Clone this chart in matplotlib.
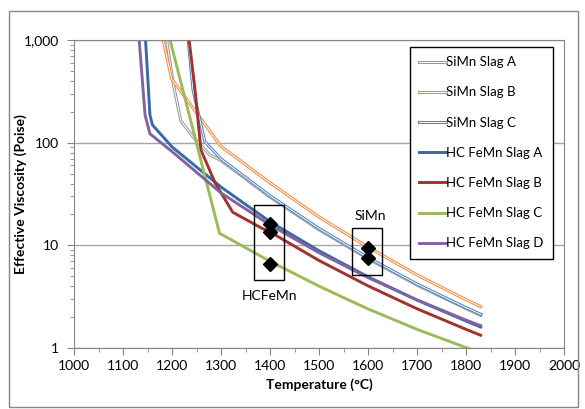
import matplotlib
matplotlib.use("Agg")
import matplotlib.pyplot as plt
import matplotlib.patheffects as pe
from matplotlib.patches import Rectangle
from matplotlib.ticker import FixedLocator, LogLocator, NullFormatter, MultipleLocator

plt.rcParams['font.family'] = ['Lato', 'DejaVu Sans']

# series (temperature in C, viscosity in Poise)
simn_a_t = [1189, 1203, 1218, 1243, 1277, 1300, 1400, 1500, 1600, 1700, 1800, 1830]
simn_a_v = [1000, 365, 163, 114, 76, 67, 29.5, 14.2, 7.4, 4.1, 2.42, 2.08]

simn_b_t = [1182, 1199, 1300, 1400, 1500, 1600, 1700, 1800, 1830]
simn_b_v = [1000, 420, 92, 40.6, 18.9, 9.6, 5.15, 2.96, 2.53]

simn_c_t = [1233, 1243, 1257, 1267, 1300, 1400, 1500, 1600, 1700, 1800, 1830]
simn_c_v = [1000, 326, 166, 102, 69.5, 30.4, 14.6, 7.6, 4.2, 2.47, 2.13]

hc_a_t = [1146, 1155, 1160, 1200, 1300, 1400, 1500, 1600, 1700, 1800, 1830]
hc_a_v = [1000, 186, 149, 91, 37, 17, 8.85, 4.94, 2.93, 1.83, 1.60]

hc_b_t = [1235, 1247, 1259, 1288, 1324, 1383, 1400, 1500, 1600, 1700, 1800, 1830]
hc_b_v = [1000, 326, 85, 40.5, 21, 14.7, 13.5, 7.12, 4.03, 2.41, 1.52, 1.33]

hc_c_t = [1196, 1297, 1400, 1500, 1600, 1700, 1800, 1830]
hc_c_v = [1000, 13.1, 7.0, 4.0, 2.4, 1.52, 1.01, 0.9]

hc_d_t = [1133, 1145, 1155, 1200, 1300, 1400, 1500, 1600, 1700, 1800, 1830]
hc_d_v = [1000, 186, 122, 82, 32.4, 15.8, 8.47, 4.85, 2.94, 1.87, 1.65]

# measured points
hcfemn_t = [1400, 1400, 1400]
hcfemn_v = [16.0, 13.6, 6.6]
simn_t = [1600, 1600]
simn_v = [9.4, 7.5]

fig = plt.figure(figsize=(5.85, 4.09), dpi=100)
ax = fig.add_axes([74/585, 1-348/409, 490/585, 308/409])

def double_line(t, v, c, label):
    ax.plot(t, v, color=c, lw=2.2, label=label,
            path_effects=[pe.Stroke(linewidth=2.2, foreground=c),
                          pe.Stroke(linewidth=0.7, foreground='white')])

double_line(simn_a_t, simn_a_v, '#9a9a9a', 'SiMn Slag A')
double_line(simn_b_t, simn_b_v, '#f08a3c', 'SiMn Slag B')
double_line(simn_c_t, simn_c_v, '#4f81bd', 'SiMn Slag C')
ax.plot(hc_a_t, hc_a_v, color='#3a69a5', lw=2.1, label='HC FeMn Slag A')
ax.plot(hc_b_t, hc_b_v, color='#a3322f', lw=2.1, label='HC FeMn Slag B')
ax.plot(hc_c_t, hc_c_v, color='#9bbb59', lw=2.1, label='HC FeMn Slag C')
ax.plot(hc_d_t, hc_d_v, color='#8064a2', lw=2.1, label='HC FeMn Slag D')

ax.plot(hcfemn_t, hcfemn_v, 'D', color='black', ms=7.5, zorder=5)
ax.plot(simn_t, simn_v, 'D', color='black', ms=7.5, zorder=5)

ax.add_patch(Rectangle((1368, 4.6), 61, 24.7 - 4.6, fill=False, ec='black', lw=1, zorder=6))
ax.add_patch(Rectangle((1567, 5.15), 61, 14.7 - 5.15, fill=False, ec='black', lw=1, zorder=6))
ax.text(1398, 3.2, 'HCFeMn', ha='center', va='center', fontsize=10)
ax.text(1605, 19.1, 'SiMn', ha='center', va='center', fontsize=10)

ax.set_yscale('log')
ax.set_xlim(1000, 2000)
ax.set_ylim(1, 1000)
ax.xaxis.set_major_locator(MultipleLocator(100))
ax.xaxis.set_minor_locator(MultipleLocator(50))
ax.yaxis.set_major_locator(FixedLocator([1, 10, 100, 1000]))
ax.yaxis.set_minor_locator(LogLocator(base=10, subs=range(2, 10)))
ax.yaxis.set_minor_formatter(NullFormatter())
ax.set_yticklabels(['1', '10', '100', '1,000'])
ax.grid(axis='y', which='major', color='#a6a6a6', lw=1)
ax.tick_params(axis='both', which='major', labelsize=10, color='#868686', length=5)
ax.tick_params(axis='y', which='major', pad=6)
ax.tick_params(axis='both', which='minor', color='#868686', length=3)
for s in ax.spines.values():
    s.set_color('#868686')

ax.set_xlabel('Temperature (°C)', fontsize=10, fontweight='bold', labelpad=5)
ax.set_ylabel('Effective Viscosity (Poise)', fontsize=10, fontweight='bold')
ax.yaxis.set_label_coords(-47/490, 0.5)

leg = ax.legend(loc='upper left', bbox_to_anchor=(410/585, 1-47/409),
                bbox_transform=fig.transFigure, borderaxespad=0, fontsize=9.5,
                handlelength=2.0, handletextpad=0.05, labelspacing=1.38,
                fancybox=False, framealpha=1, borderpad=0.7)
leg.get_frame().set_edgecolor('black')
leg.get_frame().set_linewidth(1)

# outer chart border
fig.patches.append(Rectangle((9/585, 2/409), 569/585, 396/409, transform=fig.transFigure,
                             fill=False, ec='#868686', lw=1))

fig.savefig('out.png', dpi=100)
